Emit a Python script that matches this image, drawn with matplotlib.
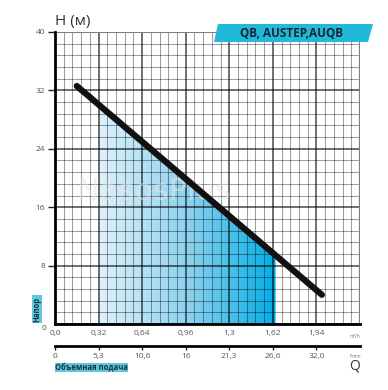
import numpy as np
import matplotlib
matplotlib.use("Agg")
import matplotlib.pyplot as plt
from matplotlib.patches import Polygon
from matplotlib.colors import LinearSegmentedColormap

# ---- data ----
q_curve = [0.16, 1.96]          # m3/h
h_curve = [32.6, 4.0]           # m
fill_q = [0.32, 1.62]           # working range
q_ticks = [0.0, 0.32, 0.64, 0.96, 1.28, 1.60, 1.92]
q_labels = ["0,0", "0,32", "0,64", "0,96", "1,3", "1,62", "1,94"]
lmin_labels = ["0", "5,3", "10,6", "16", "21,3", "26,6", "32,0"]
h_ticks = [8, 16, 24, 32, 40]
h_labels = ["8", "16", "24", "32", "40"]
title_text = "QB, AUSTEP,AUQB"

plt.rcParams['font.family'] = ['Open Sans', 'DejaVu Sans']

W, H = 388, 390
fig = plt.figure(figsize=(W/100, H/100), dpi=100)

def fx(px): return px / W
def fy(py): return 1 - py / H

L, R, T, B = 55, 360, 32, 324
ax = fig.add_axes([fx(L), fy(B), fx(R) - fx(L), fy(T) - fy(B)])
ax.set_xlim(0, 2.24)
ax.set_ylim(0, 40)

# grid
for i in range(36):
    x = i * 0.064
    if i % 5 == 0:
        ax.axvline(x, color="black", alpha=0.72, lw=1.1, zorder=2)
    else:
        ax.axvline(x, color="black", alpha=0.38, lw=0.75, zorder=2)
for j in range(26):
    y = j * 1.6
    if j % 5 == 0:
        ax.axhline(y, color="black", alpha=0.72, lw=1.1, zorder=2)
    else:
        ax.axhline(y, color="black", alpha=0.38, lw=0.75, zorder=2)
ax.axvline(2.24, color="#808080", lw=1.6, zorder=2)
ax.axhline(40, color="#808080", lw=1.4, zorder=2)

# gradient fill under the curve
q0, q1 = fill_q
hq0 = np.interp(q0, q_curve, h_curve)
hq1 = np.interp(q1, q_curve, h_curve)
cmap = LinearSegmentedColormap.from_list("g", ["#def2fb", "#8dd2ef", "#00ade4"])
grad = np.linspace(0, 1, 256).reshape(1, -1)
im = ax.imshow(grad, extent=[q0, q1, 0, max(hq0, hq1)], aspect="auto",
               cmap=cmap, zorder=1, origin="lower")
poly = Polygon([(q0, 0), (q0, hq0), (q1, hq1), (q1, 0)], closed=True,
               transform=ax.transData, facecolor="none", edgecolor="none")
ax.add_patch(poly)
im.set_clip_path(poly)

# curve
ax.plot(q_curve, h_curve, color="#111111", lw=4.5, solid_capstyle="round", zorder=5)

# watermark
ax.text(0.73, 18.2, "NasosPlus", fontsize=22, color="#e6e6e6", alpha=0.5,
        ha="center", va="center", zorder=4, family="DejaVu Sans")

for s in ["top", "right"]:
    ax.spines[s].set_visible(False)
ax.spines["left"].set_linewidth(2.0)
ax.spines["bottom"].set_linewidth(2.0)
ax.spines["left"].set_zorder(6)
ax.spines["bottom"].set_zorder(6)

ax.set_xticks(q_ticks)
ax.set_xticklabels(q_labels)
ax.set_yticks(h_ticks)
ax.set_yticklabels(h_labels)
ax.tick_params(axis="both", length=5, width=1.0, color="#222222",
               labelsize=6, labelcolor="#555555", pad=2)
ax.tick_params(axis="x", length=0, pad=4)

fig.text(fx(44), fy(328), "0", fontsize=6, color="#555555", ha="center", va="center")
fig.text(fx(355), fy(336), "m³/h", fontsize=3.5, color="#777777", ha="center", va="center")

# second axis (l/min)
ax2 = fig.add_axes([fx(L), fy(345.7), fx(R) - fx(L), 0.0001])
ax2.set_xlim(0, 2.24)
ax2.set_ylim(0, 1)
for s in ["top", "right", "left"]:
    ax2.spines[s].set_visible(False)
ax2.spines["bottom"].set_linewidth(2.0)
ax2.set_yticks([])
ax2.set_xticks(q_ticks)
ax2.set_xticklabels(lmin_labels)
ax2.tick_params(axis="x", length=3, width=1.0, color="#222222",
                labelsize=6, labelcolor="#555555", pad=2)
ax2.patch.set_visible(False)
fig.text(fx(355), fy(357), "l/min", fontsize=3.5, color="#777777", ha="center", va="center")
fig.text(fx(355), fy(366), "Q", fontsize=10, color="#333333", ha="center", va="center")

# labels in cyan boxes
fig.patches.append(plt.Rectangle((fx(55), fy(372)), fx(128) - fx(55), fy(363) - fy(372),
                                 transform=fig.transFigure, facecolor="#5cc9e2",
                                 edgecolor="none"))
fig.text(fx(91.5), fy(367.5), "Объемная подача", fontsize=5.5, color="#1e2e3a",
         ha="center", va="center", fontweight="bold")
fig.patches.append(plt.Rectangle((fx(32), fy(323)), fx(42) - fx(32), fy(295) - fy(323),
                                 transform=fig.transFigure, facecolor="#5cc9e2",
                                 edgecolor="none"))
fig.text(fx(37), fy(309), "Напор", fontsize=5.5, color="#1e2e3a",
         ha="center", va="center", rotation=90, fontweight="bold")

# H title
fig.text(fx(55), fy(21), "H (м)", fontsize=11, color="#333333", ha="left", va="center")

# banner
banner = Polygon([(fx(218), fy(24)), (fx(373), fy(24)), (fx(368), fy(42)), (fx(214), fy(42))],
                 closed=True, transform=fig.transFigure, facecolor="#22b8d9", edgecolor="none")
fig.patches.append(banner)
fig.text(fx(292), fy(33.5), title_text, fontsize=8.5, color="#1a2633", ha="center",
         va="center", fontweight="bold", fontstretch="condensed")

fig.savefig("out.png", dpi=100)
